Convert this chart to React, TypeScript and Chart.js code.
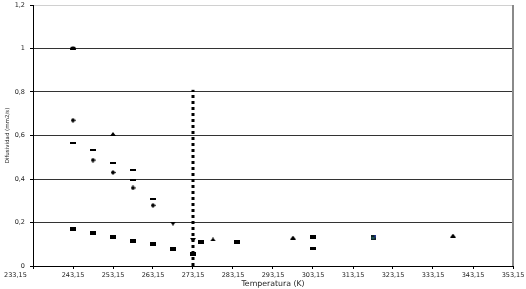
import { useEffect, useRef } from 'react';
import { Chart, registerables } from 'chart.js';
Chart.register(...registerables);

const xTickValues = [233.15, 243.15, 253.15, 263.15, 273.15, 283.15, 293.15, 303.15, 313.15, 323.15, 333.15, 343.15, 353.15];
const yTickValues = [0, 0.2, 0.4, 0.6, 0.8, 1, 1.2];

const squareT = [243.15, 248.15, 253.15, 258.15, 263.15, 268.15, 273.15, 275.15, 284.15, 303.15];
const squareD = [0.169, 0.154, 0.135, 0.117, 0.099, 0.078, 0.055, 0.110, 0.111, 0.132];
const flatT = [303.15];
const flatD = [0.081];
const diamondT = [243.15, 248.15, 253.15, 258.15, 263.15];
const diamondD = [0.67, 0.487, 0.43, 0.359, 0.279];
const dashT = [243.15, 248.15, 253.15, 258.15, 258.15, 263.15];
const dashD = [0.567, 0.533, 0.472, 0.441, 0.397, 0.306];
const triT = [253.15, 278.15, 298.15, 338.15];
const triD = [0.607, 0.122, 0.131, 0.14];
const downT = [268.15, 273.15];
const downD = [0.195, 0.119];
const circleT = [243.15];
const circleD = [1.003];
const tealT = [318.15];
const tealD = [0.129];
const freezeT = [273.15, 273.15];
const freezeD = [0, 0.81];

const pts = (xs: number[], ys: number[]) => xs.map((x, i) => ({ x, y: ys[i] }));

function marker(w: number, h: number, draw: (c: CanvasRenderingContext2D) => void) {
  const cv = document.createElement('canvas');
  cv.width = w;
  cv.height = h;
  const c = cv.getContext('2d')!;
  draw(c);
  return cv;
}

const fmt = (v: number, d: number) => String(+v.toFixed(d)).replace('.', ',');

export default function App() {
  const ref = useRef<HTMLCanvasElement>(null);
  useEffect(() => {
    const rect = marker(6, 4, (c) => { c.fillStyle = '#000'; c.fillRect(0, 0, 6, 4); });
    const flat = marker(6, 3, (c) => { c.fillStyle = '#000'; c.fillRect(0, 0, 6, 3); });
    const dash = marker(6, 2, (c) => { c.fillStyle = '#000'; c.fillRect(0, 0, 6, 2); });
    const diamond = marker(5, 5, (c) => {
      c.fillStyle = '#000'; c.beginPath(); c.moveTo(2.5, 0); c.lineTo(5, 2.5); c.lineTo(2.5, 5); c.lineTo(0, 2.5); c.closePath(); c.fill();
    });
    const tri = marker(6, 4, (c) => {
      c.fillStyle = '#000'; c.beginPath(); c.moveTo(3, 0); c.lineTo(6, 4); c.lineTo(0, 4); c.closePath(); c.fill();
    });
    const down = marker(6, 4, (c) => {
      c.fillStyle = '#000'; c.beginPath(); c.moveTo(0, 0); c.lineTo(6, 0); c.lineTo(3, 4); c.closePath(); c.fill();
    });
    const dome = marker(6, 4, (c) => {
      c.fillStyle = '#000'; c.beginPath(); c.ellipse(3, 3, 3, 2.5, 0, 0, Math.PI * 2); c.fill();
    });
    const teal = marker(5, 5, (c) => {
      c.fillStyle = '#102428'; c.fillRect(0, 0, 5, 5);
      c.fillStyle = '#2a7a7a'; c.fillRect(1, 2, 3, 1);
      c.fillStyle = '#22339a'; c.fillRect(4, 0, 1, 2);
    });

    const frame = {
      id: 'frame',
      afterDraw(chart: any) {
        const { ctx, chartArea: a } = chart;
        ctx.save();
        ctx.strokeStyle = '#8a8a8a';
        ctx.lineWidth = 2;
        ctx.beginPath();
        ctx.moveTo(a.right, a.top);
        ctx.lineTo(a.right, a.bottom);
        ctx.stroke();
        ctx.restore();
      },
    };

    const sc = (data: any, style: any) => ({ type: 'scatter', data, pointStyle: style, pointRadius: 3, showLine: false });

    const chart = new Chart(ref.current!, {
      type: 'scatter',
      data: {
        datasets: [
          {
            type: 'line', data: pts(freezeT, freezeD), borderColor: '#000', borderWidth: 3,
            borderDash: [3, 3], pointRadius: 0, fill: false, showLine: true,
          } as any,
          sc(pts(squareT, squareD), rect),
          sc(pts(flatT, flatD), flat),
          sc(pts(diamondT, diamondD), diamond),
          sc(pts(dashT, dashD), dash),
          sc(pts(triT, triD), tri),
          sc(pts(downT, downD), down),
          sc(pts(circleT, circleD), dome),
          sc(pts(tealT, tealD), teal),
        ] as any,
      },
      options: {
        animation: false,
        responsive: false,
        events: [],
        layout: { padding: { top: 2, right: 13, left: 0, bottom: 0 } },
        plugins: { legend: { display: false }, tooltip: { enabled: false } },
        scales: {
          x: {
            type: 'linear',
            min: 233.15,
            max: 353.15,
            afterBuildTicks: (s: any) => { s.ticks = xTickValues.map((v) => ({ value: v })); },
            afterFit: (s: any) => { s.height = 23; s.paddingLeft = 0; s.paddingRight = 0; },
            border: { color: '#000', width: 1 },
            grid: { drawOnChartArea: false, drawTicks: true, tickLength: 3, tickColor: '#000' },
            ticks: {
              autoSkip: false, maxRotation: 0, minRotation: 0, padding: 2,
              color: '#222', font: { family: 'DejaVu Sans', size: 6.5 },
              callback: (v: any) => (v === xTickValues[0] ? fmt(v, 2) + ' '.repeat(17) : fmt(v, 2)),
            },
            title: {
              display: true, text: 'Temperatura (K)', color: '#222',
              font: { family: 'DejaVu Sans', size: 7.8 }, padding: { top: 0, bottom: 0 },
            },
          },
          y: {
            type: 'linear',
            min: 0,
            max: 1.2,
            afterBuildTicks: (s: any) => { s.ticks = yTickValues.map((v) => ({ value: v })); },
            afterFit: (s: any) => { s.width = 33; s.paddingTop = 0; s.paddingBottom = 0; },
            border: { color: '#000', width: 1 },
            grid: {
              color: (c: any) => (c.tick && c.tick.value === 1.2 ? '#d0d0d0' : '#333'),
              lineWidth: 1, drawTicks: true, tickLength: 3, tickColor: '#000',
            },
            ticks: {
              padding: 5, color: '#222', font: { family: 'DejaVu Sans', size: 6.5 },
              callback: (v: any) => fmt(v, 1),
            },
            title: {
              display: true, text: 'Difusividad (mm2/s)', color: '#222',
              font: { family: 'DejaVu Sans', size: 5.5 }, padding: { top: 4, bottom: 4 },
            },
          },
        },
      } as any,
      plugins: [frame],
    });
    return () => chart.destroy();
  }, []);
  return (
    <div style={{ position: 'fixed', left: 0, top: 0, width: 526, height: 289, background: '#fff' }}>
      <canvas ref={ref} width={526} height={289} />
    </div>
  );
}
